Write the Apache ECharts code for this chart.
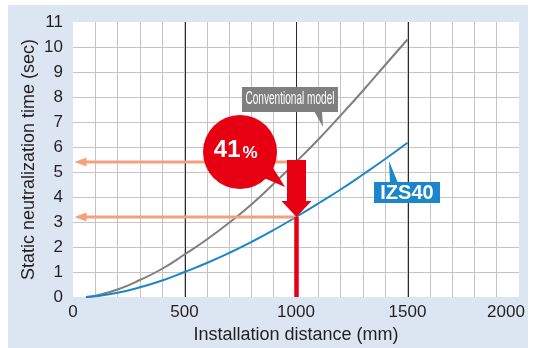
<!DOCTYPE html>
<html><head><meta charset="utf-8">
<script src="https://cdn.jsdelivr.net/npm/echarts@6/dist/echarts.min.js"></script>
<style>
html,body{margin:0;padding:0;background:#fff;}
#wrap{position:relative;width:538px;height:348px;overflow:hidden;}
#bg{position:absolute;left:8px;top:5px;width:520px;height:343px;background:#dce6f3;}
#c{position:absolute;left:0;top:0;width:538px;height:348px;}
</style>
</head><body>
<div id="wrap"><div id="bg"></div><div id="c"></div></div>
<script>
// ---- data ----
const distanceMm      = [58, 100, 200, 300, 400, 500, 600, 700, 800, 900, 1000, 1100, 1200, 1300, 1400, 1500];
const conventionalSec = [0, 0.05, 0.3, 0.68, 1.13, 1.7, 2.3, 2.97, 3.7, 4.53, 5.4, 6.3, 7.26, 8.25, 9.28, 10.3];
const izs40Sec        = [0, 0.03, 0.17, 0.39, 0.66, 1.0, 1.36, 1.76, 2.2, 2.68, 3.2, 3.74, 4.3, 4.9, 5.52, 6.17];
const xTickLabels = [0, 500, 1000, 1500, 2000];
const yTickLabels = [0, 1, 2, 3, 4, 5, 6, 7, 8, 9, 10, 11];
const majorX = [500, 1000, 1500];
const compareAt = 1000;          // installation distance compared
const compareConventional = 5.4; // sec
const compareIzs40 = 3.2;        // sec
const reductionText = '41';
const seriesNames = ['Conventional model', 'IZS40'];
const xTitle = 'Installation distance (mm)';
const yTitle = 'Static neutralization time (sec)';

// annotation anchors (data space)
const badgeCenter = [749, 5.8];
const badgeTip = [951, 4.4];
const convTip = [1121, 6.8];
const izsTip = [1417, 5.44];

const RED = '#e60012', SALMON = '#f4a07c', GRAY = '#7f7f7f', BLUE = '#1b86c9';
const FONT = '"Liberation Sans", Arial, Helvetica, sans-serif';

const chart = echarts.init(document.getElementById('c'), null, {renderer: 'canvas'});

const pairs = arr => distanceMm.map((d, i) => [d, arr[i]]);

const option = {
  backgroundColor: 'transparent',
  animation: false,
  grid: {left: 73, top: 22, width: 446, height: 275, show: true, backgroundColor: '#ffffff', borderWidth: 0, containLabel: false, outerBoundsMode: 'none'},
  xAxis: {
    type: 'value', min: 0, max: 2000, interval: 100,
    axisLine: {show: false}, axisTick: {show: false},
    splitLine: {show: true, showMinLine: false, showMaxLine: false, lineStyle: {color: '#c4c4c4', width: 1}},
    axisLabel: {
      margin: 7, fontSize: 17, color: '#231f20', fontFamily: FONT,
      formatter: v => xTickLabels.indexOf(v) < 0 ? '' : (v === 2000 ? '{last|' + v + '}' : String(v)),
      rich: {last: {fontSize: 17, color: '#231f20', fontFamily: FONT, padding: [0, 26, 0, 0]}}
    },
    name: xTitle, nameLocation: 'middle', nameGap: 29,
    nameTextStyle: {fontSize: 18, color: '#231f20', fontFamily: FONT}
  },
  yAxis: {
    type: 'value', min: 0, max: 11, interval: 1,
    axisLine: {show: false}, axisTick: {show: false},
    splitLine: {show: true, showMinLine: false, showMaxLine: false, lineStyle: {color: '#c4c4c4', width: 1}},
    axisLabel: {margin: 10, fontSize: 17, color: '#231f20', fontFamily: FONT,
      formatter: v => yTickLabels.indexOf(v) < 0 ? '' : String(v)},
    name: yTitle, nameLocation: 'middle', nameGap: 35, nameRotate: 90, nameMoveOverlap: false,
    nameTextStyle: {fontSize: 18, color: '#231f20', fontFamily: FONT}
  },
  series: [
    // dark major verticals
    {
      type: 'custom', z: 1, silent: true,
      data: majorX.map(x => [x]),
      renderItem: function (params, api) {
        const a = api.coord([api.value(0), 0]);
        const b = api.coord([api.value(0), 11]);
        const x = Math.round(a[0]) + 0.5;
        return {type: 'line', shape: {x1: x, y1: a[1], x2: x, y2: b[1]}, style: {stroke: '#2a2a2a', lineWidth: 1}};
      }
    },
    {
      name: seriesNames[0], type: 'line', data: pairs(conventionalSec), smooth: true,
      showSymbol: false, symbol: 'none', z: 2, lineStyle: {color: GRAY, width: 2}
    },
    {
      name: seriesNames[1], type: 'line', data: pairs(izs40Sec), smooth: true,
      showSymbol: false, symbol: 'none', z: 2, lineStyle: {color: BLUE, width: 2}
    },
    // salmon arrows back to the y axis
    {
      type: 'custom', z: 3, silent: true,
      data: [[compareAt, compareConventional], [compareAt, compareIzs40]],
      renderItem: function (params, api) {
        const p = api.coord([api.value(0), api.value(1)]);
        const o = api.coord([0, api.value(1)]);
        const tipX = o[0] + 1.5, L = 12, H = 4.5;
        return {type: 'group', children: [
          {type: 'line', shape: {x1: tipX + L - 1, y1: p[1], x2: p[0], y2: p[1]}, style: {stroke: SALMON, lineWidth: 3}},
          {type: 'polygon', shape: {points: [[tipX, p[1]], [tipX + L, p[1] - H], [tipX + L, p[1] + H]]}, style: {fill: SALMON}}
        ]};
      }
    },
    // red vertical line
    {
      type: 'custom', z: 4, silent: true,
      data: [[compareAt, compareIzs40]],
      renderItem: function (params, api) {
        const a = api.coord([api.value(0), 0]);
        const b = api.coord([api.value(0), api.value(1)]);
        return {type: 'line', shape: {x1: a[0] + 0.5, y1: a[1], x2: b[0] + 0.5, y2: b[1]}, style: {stroke: RED, lineWidth: 4.5}};
      }
    },
    // red down arrow
    {
      type: 'custom', z: 5, silent: true,
      data: [[compareAt, 5.48, compareIzs40]],
      renderItem: function (params, api) {
        const top = api.coord([api.value(0), api.value(1)]);
        const tip = api.coord([api.value(0), api.value(2)]);
        const cx = top[0] + 0.5, bw = 19, hw = 30, hl = 16, hs = tip[1] - hl;
        return {type: 'polygon', shape: {points: [
          [cx - bw / 2, top[1]], [cx + bw / 2, top[1]], [cx + bw / 2, hs], [cx + hw / 2, hs],
          [cx, tip[1]], [cx - hw / 2, hs], [cx - bw / 2, hs]]}, style: {fill: RED}};
      }
    },
    // 41% badge
    {
      type: 'custom', z: 6, silent: true,
      data: [[badgeCenter[0], badgeCenter[1], badgeTip[0], badgeTip[1]]],
      renderItem: function (params, api) {
        const c = api.coord([api.value(0), api.value(1)]);
        const t = api.coord([api.value(2), api.value(3)]);
        const r = 37;
        const ang = Math.atan2(t[1] - c[1], t[0] - c[0]);
        const b1 = [c[0] + r * 0.85 * Math.cos(ang - 0.32), c[1] + r * 0.85 * Math.sin(ang - 0.32)];
        const b2 = [c[0] + r * 0.85 * Math.cos(ang + 0.22), c[1] + r * 0.85 * Math.sin(ang + 0.22)];
        return {type: 'group', children: [
          {type: 'polygon', shape: {points: [b1, t, b2]}, style: {fill: RED}},
          {type: 'circle', shape: {cx: c[0], cy: c[1], r: r}, style: {fill: RED}},
          {type: 'text', style: {text: reductionText, x: c[0] + 0.5, y: c[1] - 2, align: 'right', verticalAlign: 'middle',
            fill: '#fff', font: 'bold 24px ' + FONT}},
          {type: 'text', style: {text: '%', x: c[0] + 2.5, y: c[1] + 1.5, align: 'left', verticalAlign: 'middle',
            fill: '#fff', font: 'bold 17px ' + FONT}}
        ]};
      }
    },
    // Conventional model label
    {
      type: 'custom', z: 6, silent: true,
      data: [[convTip[0], convTip[1]]],
      renderItem: function (params, api) {
        const t = api.coord([api.value(0), api.value(1)]);
        const bx = t[0] - 81, by = t[1] - 40, bw = 96, bh = 25;
        return {type: 'group', children: [
          {type: 'polygon', shape: {points: [[t[0] - 9, by + bh - 1], [t[0] - 1, by + bh - 1], [t[0], t[1]]]}, style: {fill: GRAY}},
          {type: 'rect', shape: {x: bx, y: by, width: bw, height: bh}, style: {fill: GRAY}},
          {type: 'text', x: bx + bw / 2, y: by + bh / 2, scaleX: 0.56,
            style: {text: seriesNames[0], x: 0, y: 0, align: 'center', verticalAlign: 'middle', fill: '#fff', font: '18px ' + FONT}}
        ]};
      }
    },
    // IZS40 label
    {
      type: 'custom', z: 6, silent: true,
      data: [[izsTip[0], izsTip[1]]],
      renderItem: function (params, api) {
        const t = api.coord([api.value(0), api.value(1)]);
        const bx = t[0] - 15, by = t[1] + 21, bw = 66, bh = 21;
        return {type: 'group', children: [
          {type: 'polygon', shape: {points: [[t[0] + 1, by + 1], [t[0] + 9, by + 1], [t[0], t[1]]]}, style: {fill: BLUE}},
          {type: 'rect', shape: {x: bx, y: by, width: bw, height: bh}, style: {fill: BLUE}},
          {type: 'text', style: {text: seriesNames[1], x: bx + bw / 2, y: by + bh / 2 + 0.5, align: 'center', verticalAlign: 'middle',
            fill: '#fff', font: 'bold 20px ' + FONT}}
        ]};
      }
    }
  ]
};
chart.setOption(option);
</script>
</body></html>
